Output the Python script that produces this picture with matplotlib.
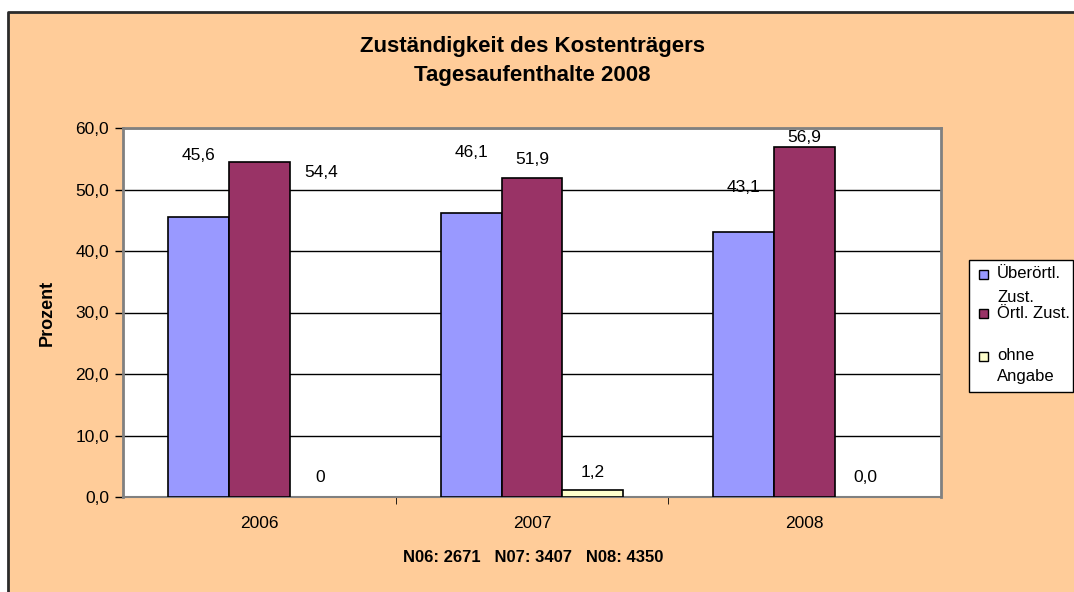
import matplotlib
matplotlib.use('Agg')
import matplotlib.pyplot as plt
from matplotlib.patches import Rectangle
from matplotlib.lines import Line2D
import numpy as np

plt.rcParams['font.family'] = ['Liberation Sans', 'DejaVu Sans']

years = ['2006', '2007', '2008']
series_names = ['Überörtl.\nZust.', 'Örtl. Zust.', 'ohne\nAngabe']
ueberoertl = [45.6, 46.1, 43.1]
oertl = [54.4, 51.9, 56.9]
ohne = [0.0, 1.2, 0.0]
labels_ueber = ['45,6', '46,1', '43,1']
labels_oertl = ['54,4', '51,9', '56,9']
labels_ohne = ['0', '1,2', '0,0']
colors = ['#9999FF', '#993366', '#FFFFCC']

# label offsets (px) as Excel placed them: (dx, dy) from top centre of bar
offs_ueber = [(0, 61), (0, 61), (0, 44)]
offs_oertl = [(62, -10), (0, 18), (0, 10)]
offs_ohne = [(0, 19), (0, 17), (0, 19)]

W, H = 1074, 592
fig = plt.figure(figsize=(W / 100, H / 100), dpi=100)
fig.patch.set_facecolor('white')
# peach chart area, only left and top border are inside the picture
fig.patches.append(Rectangle((8 / W, 0), 1 - 8 / W, 1 - 12 / H, transform=fig.transFigure,
                             facecolor='#FFCC99', edgecolor='none', zorder=-10))
fig.lines.append(Line2D([8 / W, 8 / W, 1], [0, 1 - 12 / H, 1 - 12 / H], transform=fig.transFigure,
                        color='#2b2b2b', linewidth=2, zorder=-9))

ax = fig.add_axes([123 / W, 1 - 497 / H, 818 / W, 369 / H])
ax.set_facecolor('white')

x = np.arange(len(years))
w = 61 / 273
groups = [(ueberoertl, labels_ueber, offs_ueber), (oertl, labels_oertl, offs_oertl), (ohne, labels_ohne, offs_ohne)]
for i, (vals, labs, offs) in enumerate(groups):
    xs = x + (i - 1) * w
    lw = [1.2 if v > 0 else 0 for v in vals]
    ax.bar(xs, vals, width=w, color=colors[i], edgecolor='black', linewidth=lw,
           label=series_names[i], zorder=3)
    for xi, v, lab, (dx, dy) in zip(xs, vals, labs, offs):
        ax.annotate(lab, (xi, v), xytext=(dx * 0.72, dy * 0.72), textcoords='offset points',
                    ha='center', va='center', fontsize=12.5, zorder=4)

ax.set_ylim(0, 60)
ax.set_xlim(-0.5, 2.5)
ax.set_yticks(np.arange(0, 61, 10))
ax.set_yticklabels([f'{v:.1f}'.replace('.', ',') for v in range(0, 61, 10)], fontsize=12.5)
ax.yaxis.grid(True, color='black', linewidth=1)
ax.set_axisbelow(True)
ax.set_xticks(x)
ax.set_xticklabels(years, fontsize=12.5)
ax.tick_params(axis='x', length=0, pad=14)
ax.set_xticks([0.5, 1.5], minor=True)
ax.tick_params(axis='x', which='minor', length=5, color='black')
ax.tick_params(axis='y', length=6, width=1, color='black', pad=4)

for s in ['top', 'right', 'left']:
    ax.spines[s].set_color('#808080')
    ax.spines[s].set_linewidth(2)
ax.spines['bottom'].set_color('#808080')
ax.spines['bottom'].set_linewidth(1.5)

ax.set_ylabel('Prozent', fontsize=13, fontweight='bold', labelpad=14)

fig.text(532 / W, 1 - 61 / H, 'Zuständigkeit des Kostenträgers\nTagesaufenthalte 2008',
         ha='center', va='center', fontsize=16, fontweight='bold', linespacing=1.45)
fig.text(533 / W, 1 - 557 / H, 'N06: 2671   N07: 3407   N08: 4350',
         ha='center', va='center', fontsize=12, fontweight='bold')

# legend box drawn like Excel's (handles aligned with first text line)
fig.patches.append(Rectangle((969 / W, 1 - 392 / H), 104 / W, 132 / H, transform=fig.transFigure,
                             facecolor='white', edgecolor='black', linewidth=1, zorder=5))
leg_rows = [(274, [274, 297]), (313, [313]), (356, [355, 377])]
for i, (hy, text_ys) in enumerate(leg_rows):
    fig.patches.append(Rectangle((979 / W, 1 - (hy + 4.5) / H), 9 / W, 9 / H, transform=fig.transFigure,
                                 facecolor=colors[i], edgecolor='black', linewidth=1, zorder=6))
    for line, ty in zip(series_names[i].split('\n'), text_ys):
        fig.text(997 / W, 1 - ty / H, line, ha='left', va='center', fontsize=12, zorder=7)

plt.savefig('out.png', dpi=100, facecolor=fig.get_facecolor())
plt.close()
